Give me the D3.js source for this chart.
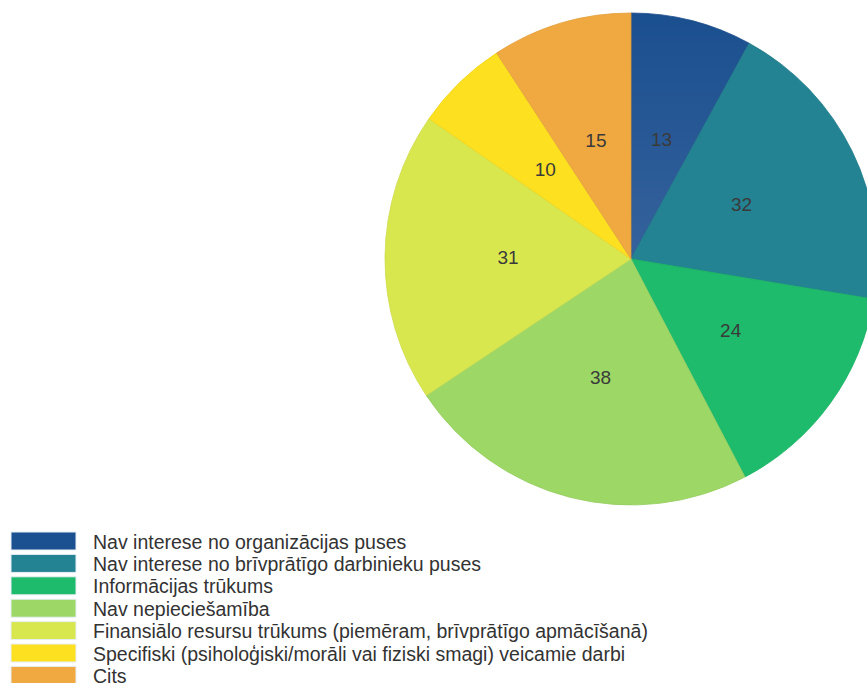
<!DOCTYPE html>
<html>
<head>
<meta charset="utf-8">
<script src="https://cdn.jsdelivr.net/npm/d3@7"></script>
<style>
  body { margin: 0; background: #fff; }
  svg { display: block; }
</style>
</head>
<body>
<div id="chart"></div>
<script>
const width = 867;
const height = 683;

// data
const categories = [
  "Nav interese no organizācijas puses",
  "Nav interese no brīvprātīgo darbinieku puses",
  "Informācijas trūkums",
  "Nav nepieciešamība",
  "Finansiālo resursu trūkums (piemēram, brīvprātīgo apmācīšanā)",
  "Specifiski (psiholoģiski/morāli vai fiziski smagi) veicamie darbi",
  "Cits"
];
const values = [13, 32, 24, 38, 31, 10, 15];
const colors = ["#1b5191", "#238392", "#1dbb6b", "#9dd866", "#d9e74f", "#fde01f", "#f0a941"];

const cx = 631, cy = 259, radius = 246;

const svg = d3.select("#chart").append("svg")
    .attr("width", width)
    .attr("height", height);

// slight shading on the first slice like the original
const defs = svg.append("defs");
const grad = defs.append("linearGradient")
    .attr("id", "blueShade")
    .attr("x1", 0).attr("y1", 0).attr("x2", 0).attr("y2", 1);
grad.append("stop").attr("offset", "0%").attr("stop-color", "#1a4f8f");
grad.append("stop").attr("offset", "100%").attr("stop-color", "#35629c");

const color = d3.scaleOrdinal().domain(categories).range(colors);

const pie = d3.pie()
    .value(d => d.value)
    .sort(null);

const data = categories.map((c, i) => ({ name: c, value: values[i] }));
const arcs = pie(data);

const arc = d3.arc().innerRadius(0).outerRadius(radius);
const labelArc = d3.arc().innerRadius(radius * 0.5).outerRadius(radius * 0.5);

const g = svg.append("g")
    .attr("transform", `translate(${cx}, ${cy})`);

g.selectAll("path.slice")
    .data(arcs)
    .enter().append("path")
    .attr("class", "slice")
    .attr("d", arc)
    .attr("fill", (d, i) => i === 0 ? "url(#blueShade)" : color(d.data.name))
    .attr("stroke", (d, i) => d3.color(color(d.data.name)).darker(0.15))
    .attr("stroke-width", 0.8);

g.selectAll("text.val")
    .data(arcs)
    .enter().append("text")
    .attr("class", "val")
    .attr("transform", d => `translate(${labelArc.centroid(d)})`)
    .attr("text-anchor", "middle")
    .attr("dy", "0.3em")
    .style("font-family", "Arial, 'Liberation Sans', sans-serif")
    .style("font-size", "19px")
    .style("fill", "#3a3a3a")
    .text(d => d.data.value);

// legend
const legend = svg.append("g")
    .attr("transform", "translate(11, 532)");

const row = legend.selectAll("g.item")
    .data(data)
    .enter().append("g")
    .attr("class", "item")
    .attr("transform", (d, i) => `translate(0, ${i * 22.4})`);

row.append("rect")
    .attr("width", 65)
    .attr("height", 18)
    .attr("fill", d => color(d.name))
    .attr("stroke", "#e8eef5")
    .attr("stroke-width", 1);

row.append("text")
    .attr("x", 82)
    .attr("y", 16.5)
    .style("font-family", "Arial, 'Liberation Sans', sans-serif")
    .style("font-size", "19.5px")
    .style("fill", "#333")
    .text(d => d.name);
</script>
</body>
</html>
